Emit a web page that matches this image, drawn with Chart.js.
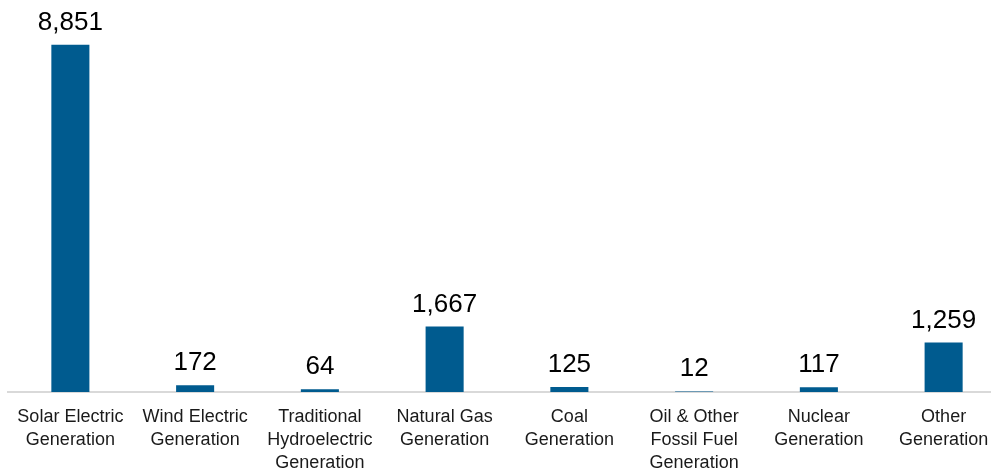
<!DOCTYPE html>
<html>
<head>
<meta charset="utf-8">
<script src="https://cdn.jsdelivr.net/npm/chart.js@4"></script>
<style>
  html, body { margin: 0; padding: 0; background: #fff; overflow: hidden; }
  #wrap { width: 1006px; height: 473px; }
</style>
</head>
<body>
<div id="wrap"><canvas id="genChart"></canvas></div>
<script>
// Chart data
const categories = [
    ['Solar Electric', 'Generation'],
    ['Wind Electric', 'Generation'],
    ['Traditional', 'Hydroelectric', 'Generation'],
    ['Natural Gas', 'Generation'],
    ['Coal', 'Generation'],
    ['Oil & Other', 'Fossil Fuel', 'Generation'],
    ['Nuclear', 'Generation'],
    ['Other', 'Generation']
];
const capacityValues = [8851, 172, 64, 1667, 125, 12, 117, 1259];

// Draw value labels above each bar
const valueLabels = {
    id: 'valueLabels',
    afterDatasetsDraw(chart) {
        const ctx = chart.ctx;
        const meta = chart.getDatasetMeta(0);
        ctx.save();
        ctx.font = '26px "Liberation Sans", Arial, sans-serif';
        ctx.fillStyle = '#000';
        ctx.textAlign = 'center';
        ctx.textBaseline = 'alphabetic';
        meta.data.forEach((bar, i) => {
            ctx.fillText(capacityValues[i].toLocaleString('en-US'), bar.x, bar.y - 15);
        });
        ctx.restore();
    }
};

new Chart(document.getElementById('genChart'), {
    type: 'bar',
    data: {
        labels: categories,
        datasets: [{
            data: capacityValues,
            backgroundColor: '#005b8f',
            barPercentage: 0.305,
            categoryPercentage: 1
        }]
    },
    options: {
        responsive: true,
        maintainAspectRatio: false,
        animation: false,
        layout: { padding: { top: 39, left: 8, right: 0, bottom: -8 } },
        plugins: {
            legend: { display: false },
            tooltip: { enabled: false }
        },
        scales: {
            x: {
                grid: { display: false },
                border: { display: true, color: '#d9d9d9', width: 2 },
                ticks: {
                    color: '#1a1a1a',
                    maxRotation: 0,
                    autoSkip: false,
                    padding: 6,
                    font: { family: '"Liberation Sans", Arial, sans-serif', size: 18, lineHeight: 1.28 }
                }
            },
            y: {
                display: false,
                min: 0,
                max: 9000
            }
        }
    },
    plugins: [valueLabels]
});
</script>
</body>
</html>
